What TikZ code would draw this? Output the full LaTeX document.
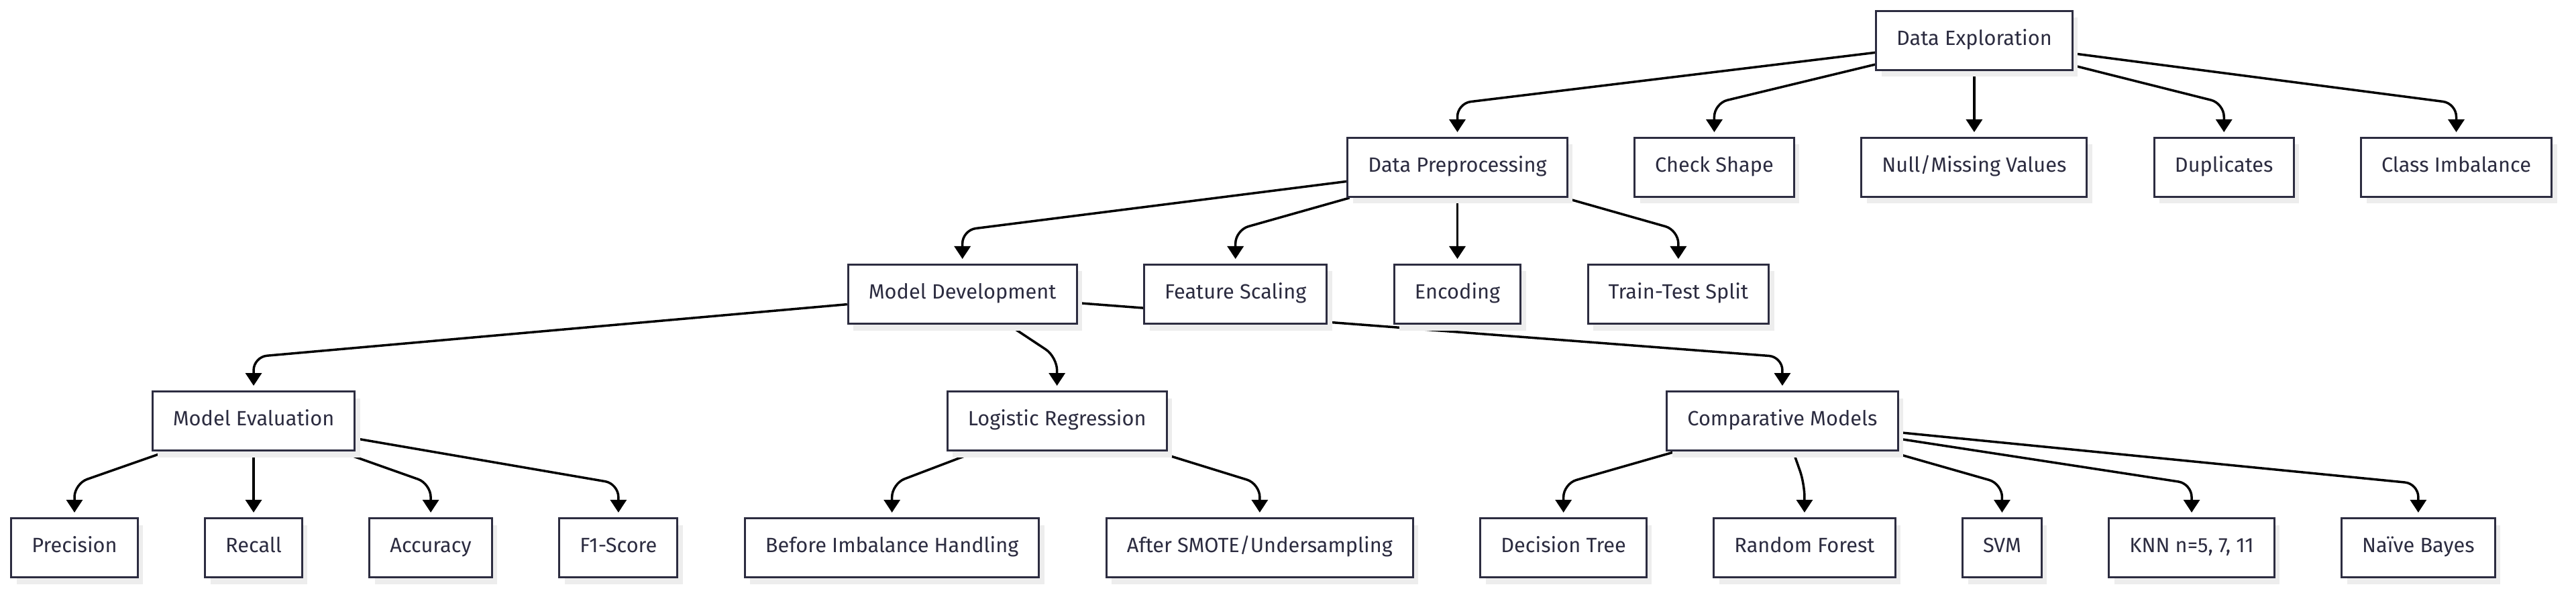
\documentclass[tikz,border=0pt]{standalone}
\usepackage{fontspec}
\setmainfont{Fira Sans}
\usetikzlibrary{positioning,arrows.meta,shadows,backgrounds,calc}
\definecolor{boxline}{HTML}{2C2C40}
\definecolor{boxtext}{HTML}{2C2C40}
\definecolor{shade}{HTML}{EDEDED}

\begin{document}
\begin{tikzpicture}[
		block/.style={rectangle, draw=boxline, fill=white, line width=0.3mm, minimum height=8.8mm, inner xsep=3.05mm, inner ysep=0mm, text height=2.1mm, text depth=0.7mm, text=boxtext, font=\fontsize{8.75}{10.5}\selectfont, drop shadow={shadow xshift=0.8mm, shadow yshift=-1mm, fill=shade, opacity=1}},
		link/.style={draw=black, line width=0.35mm, rounded corners=2mm, -{Triangle[length=1.9mm, width=2.4mm]}, shorten >=0.7mm},
		node distance=9.8mm and 9.75mm,
		]
		\useasboundingbox (0,0) rectangle (384mm,-87.8mm);

		%Metrics and Models
		\node[block]	(prec)		at (11.1mm,-81.65mm)		{Precision};
		\node[block]	(recall)	[right=of prec]		{Recall};
		\node[block]	(acc)		[right=of recall]	{Accuracy};
		\node[block]	(fone)		[right=of acc]		{F1-Score};
		\node[block]	(before)	[right=of fone]		{Before Imbalance Handling};
		\node[block]	(after)		[right=of before]	{After SMOTE/Undersampling};
		\node[block]	(dtree)		[right=of after]	{Decision Tree};
		\node[block]	(rforest)	[right=of dtree]	{Random Forest};
		\node[block]	(svm)		[right=of rforest]	{SVM};
		\node[block]	(knn)		[right=of svm]		{KNN n=5, 7, 11};
		\node[block]	(nbayes)	[right=of knn]		{Naïve Bayes};

		%Model Level
		\node[block]	(model_eval)	[above=of recall]				{Model Evaluation};
		\node[block]	(logreg)		[above=of before, xshift=24.6mm]	{Logistic Regression};
		\node[block]	(comp_models)	[above=of rforest, xshift=-3.3mm]	{Comparative Models};

		%Preprocessing Steps
		\node[block]	(model_dev)		[above=of logreg, xshift=-14.1mm]	{Model Development};
		\node[block]	(scaling)		[right=of model_dev]	{Feature Scaling};
		\node[block]	(encoding)		[right=of scaling]		{Encoding};
		\node[block]	(split)			[right=of encoding]		{Train-Test Split};

		%Exploration Steps
		\node[block]	(data_prep)		[above=of encoding]		{Data Preprocessing};
		\node[block]	(shape)			[right=of data_prep]	{Check Shape};
		\node[block]	(missing)		[right=of shape]		{Null/Missing Values};
		\node[block]	(dups)			[right=of missing]		{Duplicates};
		\node[block]	(imbalance)		[right=of dups]			{Class Imbalance};
		\node[block]	(data_expl)		[above=of missing]		{Data Exploration};

		\begin{scope}[on background layer]
		%Data Exploration
		\draw[link]	(data_expl) -- ($(data_prep.north)+(0,5mm)$) -- (data_prep);
		\draw[link]	(data_expl) -- ($(shape.north)+(0,5mm)$) -- (shape);
		\draw[link]	(data_expl) -- ($(missing.north)+(0,5mm)$) -- (missing);
		\draw[link]	(data_expl) -- ($(dups.north)+(0,5mm)$) -- (dups);
		\draw[link]	(data_expl) -- ($(imbalance.north)+(0,5mm)$) -- (imbalance);

		%Data Preprocessing
		\draw[link]	(data_prep) -- ($(model_dev.north)+(0,5mm)$) -- (model_dev);
		\draw[link]	(data_prep) -- ($(scaling.north)+(0,5mm)$) -- (scaling);
		\draw[link]	(data_prep) -- ($(encoding.north)+(0,5mm)$) -- (encoding);
		\draw[link]	(data_prep) -- ($(split.north)+(0,5mm)$) -- (split);

		%Model Development
		\draw[link]	(model_dev) -- ($(model_eval.north)+(0,5mm)$) -- (model_eval);
		\draw[link]	(model_dev) -- ($(logreg.north)+(0,5mm)$) -- (logreg);
		\draw[link]	(model_dev) -- ($(comp_models.north)+(0,5mm)$) -- (comp_models);

		%Model Evaluation
		\draw[link]	(model_eval) -- ($(prec.north)+(0,5mm)$) -- (prec);
		\draw[link]	(model_eval) -- ($(recall.north)+(0,5mm)$) -- (recall);
		\draw[link]	(model_eval) -- ($(acc.north)+(0,5mm)$) -- (acc);
		\draw[link]	(model_eval) -- ($(fone.north)+(0,5mm)$) -- (fone);

		%Logistic Regression
		\draw[link]	(logreg) -- ($(before.north)+(0,5mm)$) -- (before);
		\draw[link]	(logreg) -- ($(after.north)+(0,5mm)$) -- (after);

		%Comparative Models
		\draw[link]	(comp_models) -- ($(dtree.north)+(0,5mm)$) -- (dtree);
		\draw[link]	(comp_models) -- ($(rforest.north)+(0,5mm)$) -- (rforest);
		\draw[link]	(comp_models) -- ($(svm.north)+(0,5mm)$) -- (svm);
		\draw[link]	(comp_models) -- ($(knn.north)+(0,5mm)$) -- (knn);
		\draw[link]	(comp_models) -- ($(nbayes.north)+(0,5mm)$) -- (nbayes);
		\end{scope}

	\end{tikzpicture}
\end{document}
